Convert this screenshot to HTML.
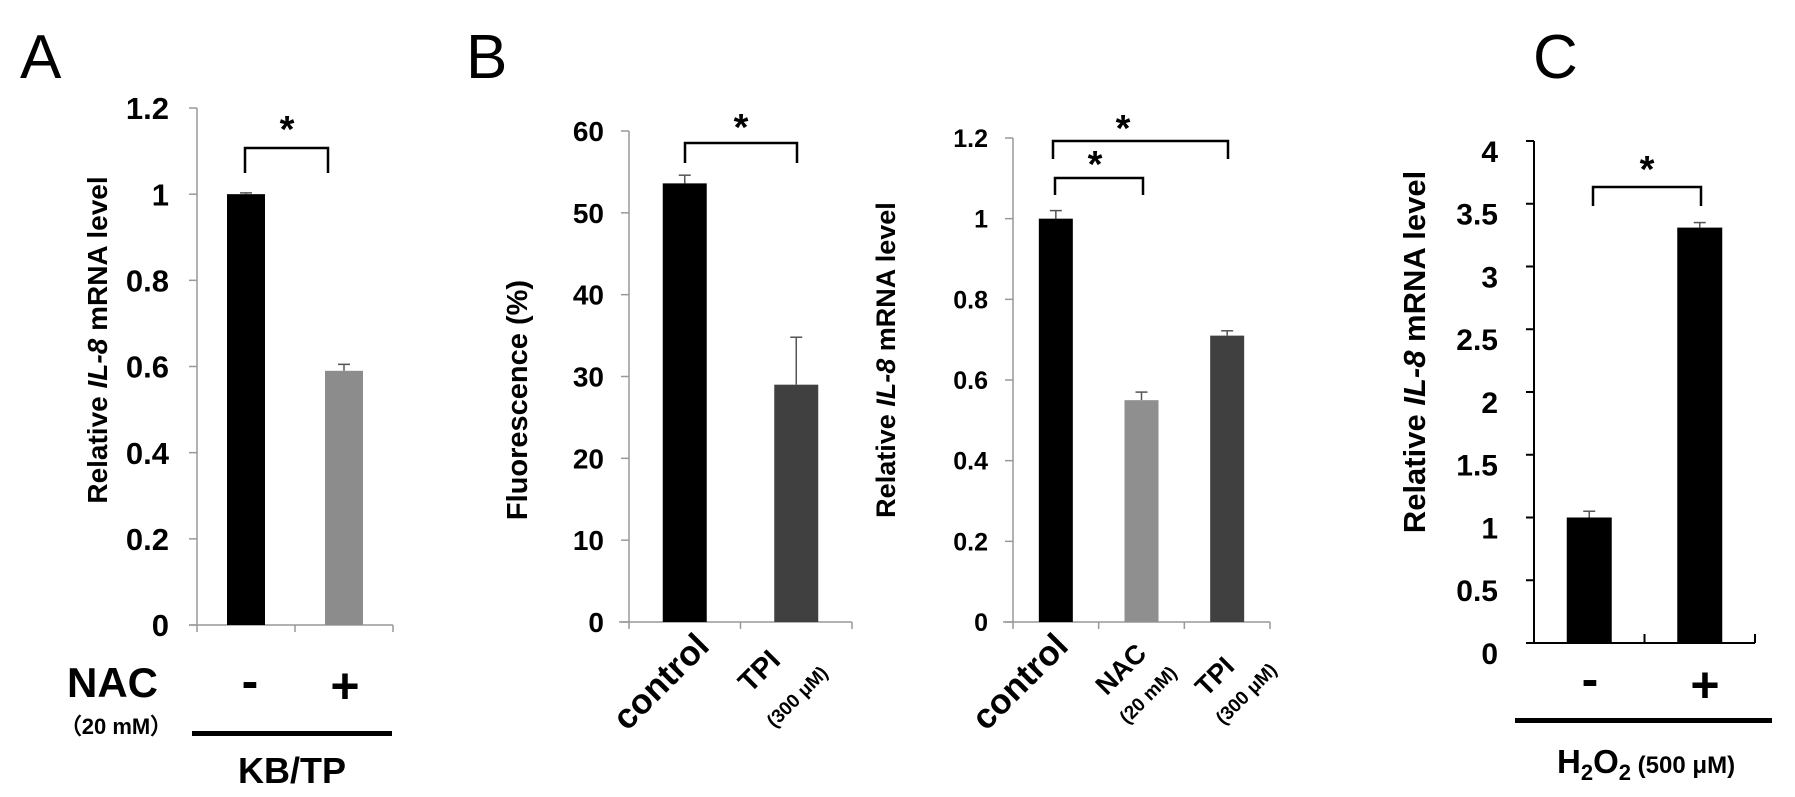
<!DOCTYPE html>
<html><head><meta charset="utf-8"><style>
html,body{margin:0;padding:0;background:#fff;}
svg{display:block;font-family:"Liberation Sans",Arial,sans-serif;}
</style></head><body>
<svg id="fig" width="1795" height="797" viewBox="0 0 1795 797">
<text x="20" y="78" font-size="62">A</text>
<text x="466" y="78" font-size="62">B</text>
<text x="1533" y="78" font-size="62">C</text>

<text transform="translate(107,340) rotate(-90)" text-anchor="middle" font-size="28" font-weight="bold">Relative <tspan font-style="italic">IL-8</tspan> mRNA level</text>
<text x="158" y="697" text-anchor="end" font-size="42" font-weight="bold">NAC</text>
<text x="116" y="734" text-anchor="middle" font-size="22" font-weight="bold">（20 mM）</text>
<text x="250" y="698" text-anchor="middle" font-size="50" font-weight="bold">-</text>
<text x="345" y="703" text-anchor="middle" font-size="50" font-weight="bold">+</text>
<rect x="192" y="731" width="200" height="5" fill="#000"/>
<text x="292" y="783" text-anchor="middle" font-size="36" font-weight="bold">KB/TP</text>

<text transform="translate(527,400) rotate(-90)" text-anchor="middle" font-size="29" font-weight="bold">Fluorescence (%)</text>
<text transform="translate(895,360) rotate(-90)" text-anchor="middle" font-size="27" font-weight="bold">Relative <tspan font-style="italic">IL-8</tspan> mRNA level</text>

<text transform="translate(1425,352) rotate(-90)" text-anchor="middle" font-size="31" font-weight="bold">Relative <tspan font-style="italic">IL-8</tspan> mRNA level</text>
<text x="1590" y="696" text-anchor="middle" font-size="50" font-weight="bold">-</text>
<text x="1705" y="702" text-anchor="middle" font-size="50" font-weight="bold">+</text>
<rect x="1515" y="718" width="257" height="5" fill="#000"/>
<text x="1557" y="773" font-size="33" font-weight="bold">H<tspan font-size="22" dy="7">2</tspan><tspan dy="-7">O</tspan><tspan font-size="22" dy="7">2</tspan><tspan font-size="24" dy="-7"> (500 μM)</tspan></text>
</svg>
<script>
// Panel A
const aValues = [1.0, 0.59];
const aErrors = [0.003, 0.015];
const aTicks = ["0","0.2","0.4","0.6","0.8","1","1.2"];
// Panel B left
const bLeftCategories = ["control","TPI"];
const bLeftValues = [53.6, 29.0];
const bLeftErrors = [1.0, 5.8];
const bLeftTicks = ["0","10","20","30","40","50","60"];
// Panel B right
const bRightCategories = ["control","NAC","TPI"];
const bRightValues = [1.0, 0.55, 0.71];
const bRightErrors = [0.02, 0.02, 0.012];
const bRightTicks = ["0","0.2","0.4","0.6","0.8","1","1.2"];
// Panel C
const cValues = [1.0, 3.31];
const cErrors = [0.05, 0.04];
const cTicks = ["0","0.5","1","1.5","2","2.5","3","3.5","4"];

const svg = document.getElementById('fig');
const NS = 'http://www.w3.org/2000/svg';
function mk(tag, attrs, name){
  const e = document.createElementNS(NS, tag);
  for (const k in attrs) e.setAttribute(k, attrs[k]);
  
  
  svg.appendChild(e);
  return e;
}
function panel(o){
  const max = parseFloat(o.ticks[o.ticks.length-1]);
  const y = v => o.y0 - (v/max)*(o.y0 - o.yTop);
  const n = o.values.length;
  const slot = (o.xEnd - o.ax)/n;
  const x = i => o.ax + slot*(i+0.5);
  mk('line',{x1:o.ax,y1:o.yTop,x2:o.ax,y2:o.y0,stroke:o.axisColor,'stroke-width':o.aw},o.id+'-y-axis');
  mk('line',{x1:o.ax-(o.xStartExt||8),y1:o.y0,x2:o.xEnd,y2:o.y0,stroke:o.axisColor,'stroke-width':o.aw},o.id+'-x-axis');
  o.ticks.forEach((t,i)=>{
    const v = parseFloat(t), yy = y(v);
    mk('line',{x1:o.ax-8,y1:yy,x2:o.ax,y2:yy,stroke:o.axisColor,'stroke-width':o.aw},o.id+'-y-tick');
    const tx = mk('text',{x:o.ax-o.labelGap,y:yy+o.fs*0.36+(o.labelDy||0),'text-anchor':'end','font-size':o.fs,'font-weight':'bold'},o.id+'-y-tick-label');
    tx.textContent = t;
  });
  for(let i=0;i<=n;i++){
    const xx = o.ax + slot*i;
    mk('line',{x1:xx,y1:o.y0,x2:xx,y2:o.y0+(o.tickDir||7),stroke:o.axisColor,'stroke-width':o.aw},o.id+'-x-tick');
  }
  o.values.forEach((v,i)=>{
    const cx = x(i), top = y(v);
    const et = y(v+o.errors[i]);
    mk('line',{x1:cx,y1:top,x2:cx,y2:et,stroke:'#555','stroke-width':1.5},o.id+'-error-bar');
    mk('line',{x1:cx-6,y1:et,x2:cx+6,y2:et,stroke:'#555','stroke-width':1.5},o.id+'-error-cap');
    mk('rect',{x:cx-o.bw/2,y:top,width:o.bw,height:o.y0-top,fill:o.colors[i]},o.id+'-bar-'+i);
  });
  return {x,y};
}
function bracket(x1,x2,yTop,yBot,sx,sy,name){
  mk('path',{d:`M${x1},${yBot} V${yTop} H${x2} V${yBot}`,fill:'none',stroke:'#000','stroke-width':2.5},name);
  const s = mk('text',{x:sx,y:sy,'text-anchor':'middle','font-size':38,'font-weight':'bold'},name+'-star');
  s.textContent='*';
}
function rotLabel(x,y,txt,fs,name,italic){
  const t = mk('text',{transform:`translate(${x},${y}) rotate(-45)`,'text-anchor':'end','font-size':fs,'font-weight':'bold','font-style':italic?'italic':'normal'},name);
  t.textContent = txt;
}

panel({id:'panel-a',values:aValues,errors:aErrors,ticks:aTicks,ax:197,xEnd:393,y0:625,yTop:108,bw:38,
  colors:['#000','#8c8c8c'],axisColor:'#999',aw:1.5,fs:31,labelGap:28,xStartExt:8});
bracket(245,328,148,173,287,142,'panel-a-bracket');

panel({id:'panel-b-left',values:bLeftValues,errors:bLeftErrors,ticks:bLeftTicks,ax:629,xEnd:852,y0:622,yTop:131,bw:44,
  colors:['#000','#404040'],axisColor:'#999',aw:1.5,fs:28,labelGap:25,xStartExt:10});
bracket(685,797,143,163,741,140,'panel-b-left-bracket');
rotLabel(711,648,bLeftCategories[0],35,'b-left-control-label');
rotLabel(782,662,bLeftCategories[1],29,'b-left-tpi-label');
rotLabel(829,674,'(300 μM)',19,'b-left-tpi-conc');

panel({id:'panel-b-right',values:bRightValues,errors:bRightErrors,ticks:bRightTicks,ax:1013,xEnd:1270,y0:622,yTop:138,bw:34,
  colors:['#000','#8f8f8f','#404040'],axisColor:'#999',aw:1.5,fs:25,labelGap:25,xStartExt:10});
bracket(1053,1228,141,159,1123,141,'panel-b-right-bracket-tpi');
bracket(1055,1143,178,195,1095,177,'panel-b-right-bracket-nac');
rotLabel(1070,648,bRightCategories[0],35,'b-right-control-label');
rotLabel(1148,655,bRightCategories[1],27,'b-right-nac-label');
rotLabel(1178,674,'(20 mM)',19,'b-right-nac-conc');
rotLabel(1236,668,bRightCategories[2],27,'b-right-tpi-label');
rotLabel(1278,671,'(300 μM)',19,'b-right-tpi-conc');

panel({id:'panel-c',values:cValues,errors:cErrors,ticks:cTicks,ax:1534,xEnd:1755,y0:643,yTop:141,bw:45,
  colors:['#000','#000'],axisColor:'#000',aw:2,fs:30,labelGap:36,labelDy:10,tickDir:-9,xStartExt:0});
bracket(1593,1701,187,206,1647,182,'panel-c-bracket');
</script>
</body></html>
